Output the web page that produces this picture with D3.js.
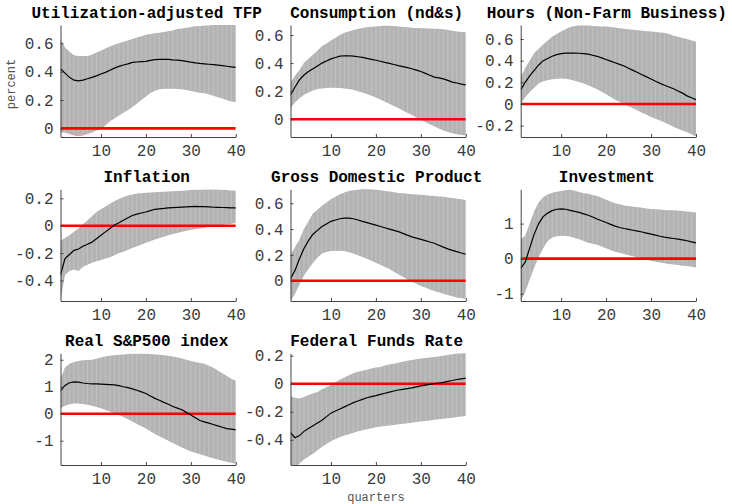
<!DOCTYPE html>
<html><head><meta charset="utf-8">
<script src="https://cdn.jsdelivr.net/npm/d3@7"></script>
<style>body{margin:0;background:#fff} svg{display:block}</style>
</head><body><svg id="c" width="732" height="504"></svg>
<script>
// ---- data ----
const quarters = d3.range(1, 41);
const titles = ["Utilization-adjusted TFP","Consumption (nd&s)","Hours (Non-Farm Business)","Inflation","Gross Domestic Product","Investment","Real S&P500 index","Federal Funds Rate"];
const xTickValues = [10, 20, 30, 40];
const yTickValues = [[0,0.2,0.4,0.6],[0,0.2,0.4,0.6],[-0.2,0,0.2,0.4,0.6],[-0.4,-0.2,0,0.2],[0,0.2,0.4,0.6],[-1,0,1],[-1,0,1,2],[-0.4,-0.2,0,0.2]];
const yLimits = [[-0.061,0.729],[-0.126,0.671],[-0.305,0.729],[-0.55,0.266],[-0.157,0.708],[-1.21,1.98],[-1.9,2.24],[-0.58,0.217]];

const tfpMid = [0.42,0.39,0.36,0.34,0.335,0.34,0.35,0.36,0.37,0.383,0.395,0.41,0.425,0.437,0.447,0.455,0.465,0.468,0.47,0.472,0.48,0.485,0.486,0.487,0.486,0.483,0.481,0.478,0.473,0.467,0.462,0.458,0.455,0.452,0.449,0.446,0.442,0.438,0.434,0.43];
const tfpHi = [0.63,0.57,0.54,0.515,0.51,0.51,0.51,0.52,0.535,0.55,0.563,0.577,0.59,0.60,0.61,0.62,0.63,0.64,0.65,0.66,0.665,0.67,0.675,0.68,0.685,0.69,0.70,0.705,0.71,0.715,0.72,0.72,0.725,0.725,0.73,0.73,0.73,0.73,0.73,0.73];
const tfpLo = [-0.03,-0.03,-0.04,-0.05,-0.055,-0.05,-0.04,-0.03,-0.015,-0.005,0.02,0.05,0.07,0.09,0.11,0.13,0.15,0.175,0.2,0.225,0.25,0.265,0.275,0.28,0.28,0.28,0.278,0.275,0.27,0.263,0.257,0.252,0.247,0.24,0.23,0.22,0.21,0.2,0.19,0.185];

const consMid = [0.173,0.23,0.28,0.315,0.34,0.36,0.38,0.40,0.415,0.43,0.44,0.45,0.452,0.452,0.45,0.445,0.44,0.433,0.427,0.42,0.413,0.405,0.398,0.39,0.382,0.375,0.368,0.36,0.35,0.34,0.327,0.313,0.30,0.295,0.288,0.277,0.265,0.258,0.25,0.245];
const consHi = [0.26,0.31,0.35,0.40,0.43,0.46,0.49,0.52,0.54,0.56,0.58,0.60,0.615,0.625,0.635,0.643,0.65,0.655,0.658,0.66,0.663,0.665,0.665,0.663,0.66,0.657,0.655,0.652,0.65,0.648,0.647,0.646,0.645,0.643,0.64,0.635,0.63,0.625,0.622,0.62];
const consLo = [0.08,0.12,0.15,0.175,0.19,0.205,0.215,0.22,0.223,0.225,0.225,0.223,0.22,0.215,0.21,0.2,0.19,0.18,0.167,0.155,0.14,0.125,0.11,0.095,0.08,0.062,0.046,0.03,0.012,-0.005,-0.02,-0.035,-0.05,-0.065,-0.08,-0.09,-0.1,-0.107,-0.112,-0.115];

const hoursMid = [0.13,0.2,0.26,0.31,0.36,0.40,0.42,0.44,0.455,0.465,0.47,0.47,0.47,0.468,0.465,0.46,0.45,0.44,0.425,0.41,0.395,0.38,0.365,0.35,0.33,0.31,0.29,0.27,0.25,0.23,0.21,0.19,0.173,0.157,0.14,0.12,0.1,0.075,0.058,0.04];
const hoursHi = [0.25,0.33,0.40,0.47,0.51,0.55,0.585,0.62,0.645,0.67,0.69,0.71,0.72,0.725,0.725,0.725,0.72,0.718,0.716,0.715,0.71,0.705,0.70,0.695,0.69,0.685,0.68,0.675,0.672,0.67,0.665,0.66,0.655,0.645,0.63,0.62,0.61,0.6,0.587,0.575];
const hoursLo = [0.0,0.06,0.11,0.15,0.19,0.21,0.22,0.228,0.233,0.235,0.232,0.225,0.215,0.203,0.19,0.172,0.154,0.135,0.112,0.09,0.065,0.04,0.02,0.0,-0.02,-0.04,-0.06,-0.08,-0.1,-0.12,-0.137,-0.153,-0.17,-0.19,-0.21,-0.228,-0.245,-0.26,-0.28,-0.3];

const inflMid = [-0.36,-0.24,-0.21,-0.18,-0.17,-0.15,-0.135,-0.12,-0.095,-0.07,-0.045,-0.02,0.005,0.022,0.04,0.058,0.075,0.085,0.093,0.10,0.11,0.12,0.123,0.126,0.13,0.132,0.134,0.136,0.138,0.14,0.141,0.14,0.139,0.137,0.135,0.134,0.133,0.132,0.131,0.13];
const inflHi = [-0.11,-0.09,-0.07,-0.045,-0.02,0.01,0.04,0.07,0.1,0.12,0.14,0.16,0.178,0.195,0.21,0.22,0.228,0.235,0.238,0.24,0.242,0.244,0.246,0.248,0.25,0.252,0.254,0.256,0.258,0.26,0.262,0.263,0.264,0.265,0.265,0.264,0.262,0.26,0.258,0.255];
const inflLo = [-0.55,-0.36,-0.33,-0.32,-0.33,-0.3,-0.285,-0.27,-0.26,-0.25,-0.24,-0.23,-0.215,-0.2,-0.19,-0.175,-0.162,-0.15,-0.137,-0.125,-0.113,-0.101,-0.09,-0.08,-0.07,-0.061,-0.053,-0.045,-0.037,-0.03,-0.025,-0.02,-0.015,-0.01,-0.005,0.0,0.005,0.01,0.015,0.02];

const gdpMid = [0.015,0.08,0.17,0.25,0.31,0.36,0.39,0.42,0.44,0.46,0.47,0.48,0.485,0.485,0.48,0.47,0.46,0.45,0.44,0.43,0.42,0.41,0.40,0.39,0.38,0.367,0.353,0.34,0.33,0.32,0.31,0.30,0.29,0.275,0.26,0.247,0.235,0.225,0.215,0.205];
const gdpHi = [0.2,0.26,0.32,0.40,0.46,0.52,0.55,0.58,0.605,0.63,0.65,0.67,0.683,0.695,0.70,0.705,0.71,0.71,0.708,0.705,0.70,0.695,0.69,0.685,0.68,0.677,0.674,0.67,0.667,0.665,0.662,0.659,0.656,0.653,0.65,0.645,0.64,0.635,0.63,0.625];
const gdpLo = [-0.16,-0.1,-0.03,0.04,0.09,0.14,0.18,0.21,0.222,0.23,0.232,0.232,0.23,0.22,0.21,0.197,0.184,0.17,0.155,0.14,0.123,0.107,0.09,0.07,0.05,0.03,0.01,-0.007,-0.023,-0.04,-0.053,-0.067,-0.08,-0.09,-0.1,-0.11,-0.12,-0.13,-0.135,-0.14];

const invMid = [-0.28,-0.1,0.3,0.7,1.0,1.2,1.3,1.37,1.41,1.42,1.41,1.38,1.35,1.32,1.28,1.24,1.19,1.13,1.08,1.03,0.98,0.93,0.89,0.86,0.835,0.81,0.785,0.76,0.73,0.70,0.67,0.64,0.615,0.595,0.575,0.555,0.535,0.51,0.48,0.45];
const invHi = [0.55,0.65,1.0,1.35,1.6,1.75,1.83,1.88,1.91,1.93,1.95,1.97,1.94,1.9,1.87,1.85,1.82,1.79,1.74,1.68,1.63,1.58,1.55,1.52,1.5,1.48,1.465,1.45,1.435,1.42,1.41,1.4,1.39,1.385,1.38,1.37,1.36,1.345,1.33,1.32];
const invLo = [-1.2,-0.95,-0.6,-0.25,0.05,0.3,0.5,0.6,0.64,0.65,0.645,0.63,0.59,0.55,0.5,0.45,0.425,0.4,0.35,0.3,0.25,0.2,0.165,0.135,0.1,0.065,0.03,0.0,-0.035,-0.07,-0.09,-0.11,-0.13,-0.15,-0.17,-0.185,-0.2,-0.21,-0.23,-0.25];

const spMid = [0.85,1.05,1.15,1.18,1.17,1.14,1.12,1.11,1.105,1.1,1.09,1.08,1.07,1.04,1.0,0.97,0.92,0.87,0.81,0.75,0.66,0.57,0.5,0.42,0.35,0.27,0.21,0.15,0.05,-0.05,-0.15,-0.25,-0.3,-0.35,-0.4,-0.45,-0.5,-0.55,-0.57,-0.6];
const spHi = [1.3,1.7,1.85,1.92,1.95,1.98,1.99,2.0,2.04,2.08,2.12,2.15,2.17,2.19,2.2,2.21,2.22,2.22,2.22,2.22,2.21,2.2,2.19,2.17,2.15,2.12,2.08,2.05,2.0,1.95,1.92,1.88,1.85,1.78,1.7,1.6,1.5,1.4,1.3,1.22];
const spLo = [0.2,0.3,0.35,0.38,0.38,0.36,0.33,0.3,0.25,0.2,0.14,0.08,0.02,-0.05,-0.12,-0.2,-0.29,-0.38,-0.46,-0.55,-0.65,-0.75,-0.83,-0.92,-1.0,-1.08,-1.17,-1.25,-1.33,-1.4,-1.45,-1.5,-1.55,-1.6,-1.65,-1.7,-1.74,-1.78,-1.82,-1.85];

const ffrMid = [-0.35,-0.385,-0.37,-0.34,-0.32,-0.3,-0.28,-0.26,-0.235,-0.21,-0.195,-0.18,-0.165,-0.15,-0.135,-0.123,-0.112,-0.1,-0.092,-0.085,-0.076,-0.068,-0.06,-0.052,-0.045,-0.04,-0.035,-0.03,-0.022,-0.015,-0.01,-0.005,0.0,0.005,0.01,0.017,0.023,0.03,0.035,0.04];
const ffrHi = [-0.09,-0.1,-0.105,-0.095,-0.08,-0.07,-0.06,-0.04,-0.025,-0.01,0.01,0.03,0.045,0.06,0.075,0.085,0.093,0.1,0.108,0.115,0.12,0.13,0.137,0.143,0.15,0.157,0.163,0.17,0.175,0.18,0.183,0.187,0.19,0.195,0.2,0.205,0.21,0.215,0.218,0.22];
const ffrLo = [-0.58,-0.6,-0.57,-0.54,-0.52,-0.5,-0.475,-0.45,-0.43,-0.41,-0.395,-0.38,-0.37,-0.36,-0.35,-0.34,-0.332,-0.325,-0.317,-0.31,-0.306,-0.302,-0.298,-0.294,-0.29,-0.286,-0.282,-0.278,-0.274,-0.27,-0.266,-0.262,-0.258,-0.254,-0.25,-0.246,-0.242,-0.238,-0.234,-0.23];

const mids = [tfpMid, consMid, hoursMid, inflMid, gdpMid, invMid, spMid, ffrMid];
const his  = [tfpHi, consHi, hoursHi, inflHi, gdpHi, invHi, spHi, ffrHi];
const los  = [tfpLo, consLo, hoursLo, inflLo, gdpLo, invLo, spLo, ffrLo];

// ---- layout ----
const colX = [60.5, 290.5, 520.7];
const rowY = [25, 189.3, 353.3];
const rowH = [112, 111.7, 111.7];
const W = 175.3;
const FONT = "'Liberation Mono', 'Courier New', monospace";

const svg = d3.select("#c");

titles.forEach((title, i) => {
  const r = Math.floor(i / 3);
  const x0 = colX[i % 3], y0 = rowY[r], H = rowH[r];
  const g = svg.append("g").attr("transform", `translate(${x0},${y0})`);
  const x = d3.scaleLinear().domain([1, 40]).range([0, W]);
  const y = d3.scaleLinear().domain(yLimits[i]).range([H, 0]);
  const rows = quarters.map((q, k) => ({q, m: mids[i][k], h: his[i][k], l: los[i][k]}));

  const cid = "clip" + i;
  g.append("clipPath").attr("id", cid).append("rect").attr("width", W).attr("height", H);
  const p = g.append("g").attr("clip-path", `url(#${cid})`);

  p.append("path").datum(rows)
    .attr("d", d3.area().x(d => x(d.q)).y0(d => y(d.l)).y1(d => y(d.h)))
    .attr("fill", "#b3b3b3");
  p.selectAll("line.s").data(rows.slice(1, -1)).join("line")
    .attr("x1", d => x(d.q)).attr("x2", d => x(d.q))
    .attr("y1", d => y(d.l) - 0.5).attr("y2", d => y(d.h) + 0.5)
    .attr("stroke", "#c2c2c2").attr("stroke-width", 1);

  p.append("line").attr("x1", x(1)).attr("x2", x(40)).attr("y1", y(0)).attr("y2", y(0))
    .attr("stroke", "#ff0000").attr("stroke-width", 2.6);

  p.append("path").datum(rows)
    .attr("d", d3.line().x(d => x(d.q)).y(d => y(d.m)))
    .attr("fill", "none").attr("stroke", "#000").attr("stroke-width", 1.2);

  const ya = g.append("g").call(d3.axisLeft(y).tickValues(yTickValues[i]).tickSizeInner(-3).tickSizeOuter(0).tickPadding(7).tickFormat(d3.format("")));
  const xa = g.append("g").attr("transform", `translate(0,${H})`)
    .call(d3.axisBottom(x).tickValues(xTickValues).tickSizeInner(-3).tickSizeOuter(0).tickPadding(8));
  [ya, xa].forEach(a => {
    a.select(".domain").attr("stroke", "#444");
    a.selectAll(".tick line").attr("stroke", "#444");
    a.selectAll("text").attr("font-family", FONT).attr("font-size", 16).attr("fill", "#3a3a3a");
  });
  ya.selectAll("text").text(d => d3.format("")(d).replace("\u2212", "-"));

  g.append("text").attr("x", W / 2 - 1.5).attr("y", -7.5).attr("text-anchor", "middle")
    .attr("font-family", FONT).attr("font-weight", "bold").attr("font-size", 16).attr("fill", "#000")
    .text(title);
});

svg.append("text").attr("transform", "translate(15,84) rotate(-90)").attr("text-anchor", "middle")
  .attr("font-family", FONT).attr("font-size", 12).attr("fill", "#555").text("percent");
svg.append("text").attr("x", 376).attr("y", 501).attr("text-anchor", "middle")
  .attr("font-family", FONT).attr("font-size", 12).attr("fill", "#555").text("quarters");
</script></body></html>
